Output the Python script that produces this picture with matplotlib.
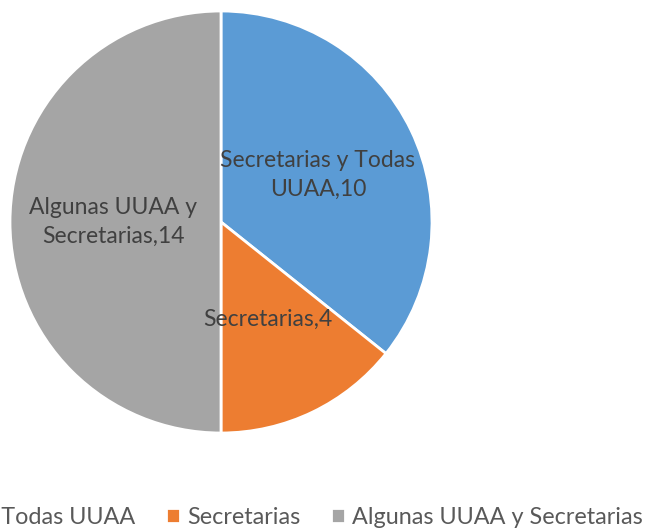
import textwrap
import matplotlib
matplotlib.use("Agg")
import matplotlib.pyplot as plt

# data
categories = ["Secretarias y Todas UUAA", "Secretarias", "Algunas UUAA y Secretarias"]
values = [10, 4, 14]
colors = ["#5B9BD5", "#ED7D31", "#A5A5A5"]

plt.rcParams['font.family'] = ['Lato', 'DejaVu Sans']

fig = plt.figure(figsize=(6.46, 5.29), dpi=100)
ax = fig.add_axes([0, 0, 1, 1])

labels = [textwrap.fill(f"{c},{v}", width=20) for c, v in zip(categories, values)]
wedges, texts = ax.pie(values, colors=colors, startangle=90, counterclock=False,
                       center=(221, 307), radius=211, labels=labels,
                       labeldistance=0.51, frame=True,
                       wedgeprops=dict(edgecolor='white', linewidth=2),
                       textprops=dict(fontsize=16.5, color='#404040'))
for t in texts:
    t.set_horizontalalignment('center')
    t.set_verticalalignment('center')
    t.set_multialignment('center')
    t.set_linespacing(1.45)
ax.set_xlim(0, 646)
ax.set_ylim(0, 529)
ax.set_aspect('equal')
ax.axis('off')

# legend runs past the left edge, as in the original
ax.legend(wedges, categories, loc='center right', bbox_to_anchor=(643, 12),
          bbox_transform=ax.transData, ncol=3, frameon=False, fontsize=16.8,
          labelcolor='#595959', handlelength=0.62, handleheight=0.62,
          handletextpad=0.3, columnspacing=1.3, borderpad=0, borderaxespad=0)

plt.savefig("out.png", dpi=100)
